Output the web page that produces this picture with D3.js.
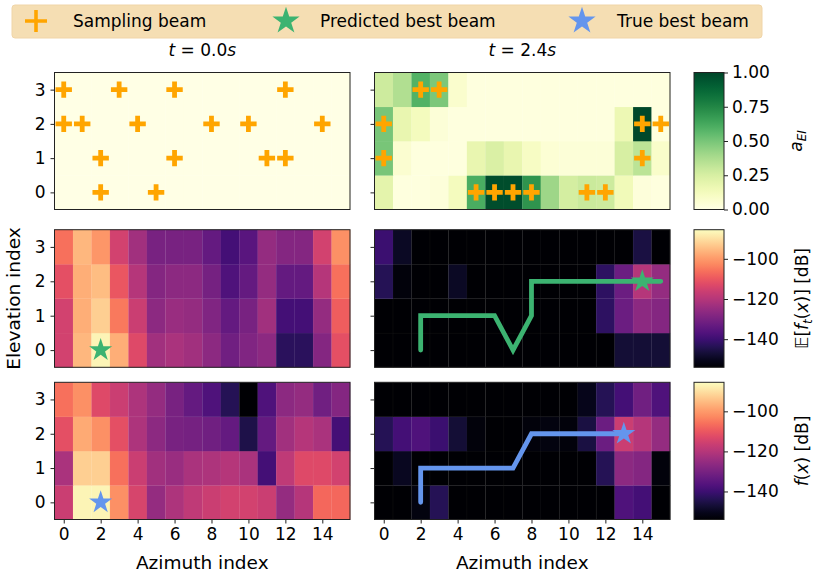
<!DOCTYPE html>
<html>
<head>
<meta charset="utf-8">
<script src="https://cdn.jsdelivr.net/npm/d3@7"></script>
<style>
  body { margin: 0; background: #fff; }
  text { font-family: "DejaVu Sans", sans-serif; fill: #000; }
</style>
</head>
<body>
<div id="chart"></div>
<script>
// categories
var azimuth = [0, 1, 2, 3, 4, 5, 6, 7, 8, 9, 10, 11, 12, 13, 14, 15];
var elevation = [0, 1, 2, 3];
var azTicks = [0, 2, 4, 6, 8, 10, 12, 14];
var titles = ["0.0", "2.4"];

// acquisition a_EI, rows = elevation 0..3
var acq0 = [
  [0, 0, 0, 0, 0, 0, 0, 0, 0, 0, 0, 0, 0, 0, 0, 0],
  [0, 0, 0, 0, 0, 0, 0, 0, 0, 0, 0, 0, 0, 0, 0, 0],
  [0, 0, 0, 0, 0, 0, 0, 0, 0, 0, 0, 0, 0, 0, 0, 0],
  [0, 0, 0, 0, 0, 0, 0, 0, 0, 0, 0, 0, 0, 0, 0, 0]
];
var acq24 = [
  [0.2, 0.02, 0.02, 0.03, 0.12, 0.61, 0.97, 0.97, 0.7, 0.41, 0.26, 0.29, 0.28, 0.14, 0.03, 0.02],
  [0.5, 0.06, 0.02, 0.02, 0.02, 0.18, 0.24, 0.18, 0.1, 0.05, 0.04, 0.04, 0.04, 0.25, 0.33, 0.08],
  [0.5, 0.18, 0.12, 0.04, 0.02, 0.02, 0.02, 0.02, 0.02, 0.02, 0.02, 0.02, 0.02, 0.16, 0.99, 0.02],
  [0.28, 0.36, 0.59, 0.49, 0.07, 0.02, 0.02, 0.02, 0.02, 0.02, 0.02, 0.02, 0.02, 0.02, 0.02, 0.02]
];

// predicted mean E[f_t(x)] in dB
var pred0 = [
  [-115, -95.8, -86.9, -97.1, -112.9, -123.2, -121.8, -123.2, -126.6, -131.4, -128.7, -126.6, -143, -143, -128, -111.5],
  [-115, -97.1, -92.4, -104.7, -116.3, -126.6, -124.5, -125.2, -128.7, -133.5, -130, -123.2, -138.9, -138.9, -125.2, -108.8],
  [-111.5, -97.1, -95.1, -110.2, -119.8, -128, -126.6, -126.6, -130.7, -136.9, -133.5, -125.2, -133.5, -133.5, -119.8, -106.1],
  [-106.1, -95.8, -100.6, -115, -123.2, -130, -130, -130, -133.5, -138.9, -135.5, -125.2, -128, -128, -115, -101.3]
];
var pred24 = [
  [-160, -160, -160, -160, -160, -160, -160, -160, -160, -160, -160, -160, -160, -147.2, -147.2, -147.2],
  [-160, -160, -160, -160, -160, -160, -160, -160, -160, -160, -160, -160, -142.4, -132.1, -126.6, -128],
  [-143.7, -152.6, -160, -160, -149.2, -160, -160, -160, -160, -160, -160, -160, -142.4, -132.1, -119.8, -125.2],
  [-140.3, -149.2, -160, -160, -160, -160, -160, -160, -160, -160, -160, -160, -160, -160, -145.8, -160]
];

// true f(x) in dB
var true0 = [
  [-116.3, -86.9, -86.9, -101.3, -114.3, -125.2, -121.1, -118.4, -116.3, -115, -115, -116.3, -125.2, -119.8, -107.4, -107.4],
  [-121.8, -92.4, -92.4, -106.1, -116.3, -123.2, -124.5, -121.8, -121.1, -119.8, -121.8, -138.9, -118.4, -112.9, -112.9, -115],
  [-111.5, -97.8, -101.3, -111.5, -121.1, -126.6, -130, -130.7, -131.4, -133.5, -145.1, -133.5, -123.2, -119.8, -121.8, -138.9],
  [-106.1, -101.3, -112.9, -116.3, -121.1, -125.2, -130, -133.5, -136.9, -143.7, -156, -136.9, -126.6, -125.2, -131.4, -128]
];
var true24 = [
  [-160, -160, -151.9, -143.7, -160, -160, -160, -160, -160, -160, -160, -160, -160, -136.9, -138.9, -160],
  [-160, -149.9, -160, -160, -160, -160, -160, -160, -160, -160, -160, -160, -143.7, -126.6, -128, -152.6],
  [-143.7, -138.9, -136.9, -140.3, -147.2, -152.6, -160, -160, -152.6, -151.9, -152.6, -145.8, -132.1, -116.3, -119.8, -125.2],
  [-160, -160, -160, -160, -160, -160, -160, -160, -160, -160, -160, -150.6, -143.7, -138.9, -131.4, -136.9]
];

// sampled beams [azimuth, elevation]
var samples0 = [[0, 3], [3, 3], [6, 3], [12, 3], [0, 2], [1, 2], [4, 2], [8, 2], [10, 2], [14, 2],
                [2, 1], [6, 1], [11, 1], [12, 1], [2, 0], [5, 0]];
var samples24 = [[2, 3], [3, 3], [0, 2], [14, 2], [15, 2], [0, 1], [14, 1],
                 [5, 0], [6, 0], [7, 0], [8, 0], [11, 0], [12, 0]];

// best beam tracks
var predPath = [[2, 0], [2, 1], [6, 1], [7, 0], [8, 1], [8, 2], [15, 2]];
var truePath = [[2, 0], [2, 1], [7, 1], [8, 2], [13, 2]];
var predBest0 = [2, 0], predBest24 = [14, 2];
var trueBest0 = [2, 0], trueBest24 = [13, 2];

var aTicks = [0, 0.25, 0.5, 0.75, 1];
var dbTicks = [-140, -120, -100];
var dbDomain = [-154, -85.5];

var W = 830, H = 579;
var ORANGE = "#ffa500", GREEN = "#3cb371", BLUE = "#6495ed";
var TICK_FS = "17px", LABEL_FS = "18.5px";

var svg = d3.select("#chart").append("svg")
  .attr("width", W).attr("height", H);

var cols = [[54.5, 350], [374.5, 670]];
var rows = [[72.5, 209.5], [229.7, 367.3], [382.3, 519.5]];
var cbX = [694, 724];

var acqColor = d3.scaleSequential(d3.interpolateYlGn).domain([0, 1]).clamp(true);
var dbColor = d3.scaleSequential(d3.interpolateMagma).domain(dbDomain).clamp(true);

function plusPath(s) {
  return "M" + (-s) + ",0H" + s + "M0," + (-s) + "V" + s;
}

function styleAxis(sel) {
  sel.select(".domain").remove();
  sel.selectAll("text").style("font-size", TICK_FS).style("font-family", "DejaVu Sans");
  sel.selectAll("line").attr("stroke", "#222").attr("stroke-width", 1);
}

function drawPanel(ci, ri, grid, color, opts) {
  var x = d3.scaleBand().domain(azimuth).range(cols[ci]).padding(0);
  var y = d3.scaleBand().domain(elevation.slice().reverse()).range(rows[ri]).padding(0);
  var g = svg.append("g");

  grid.forEach(function (row, e) {
    g.selectAll(null).data(row).enter().append("rect")
      .attr("x", function (d, a) { return x(azimuth[a]); })
      .attr("y", y(elevation[e]))
      .attr("width", x.bandwidth() + 0.3)
      .attr("height", y.bandwidth() + 0.3)
      .attr("fill", function (d) { return color(d); })
      .attr("stroke", "rgba(255,255,255,0.06)")
      .attr("stroke-width", 0.6);
  });

  var cx = function (a) { return x(a) + x.bandwidth() / 2; };
  var cy = function (e) { return y(e) + y.bandwidth() / 2; };

  // y axis
  var yAxis = d3.axisLeft(d3.scaleLinear().domain([-0.5, 3.5]).range([rows[ri][1], rows[ri][0]]))
    .tickValues(elevation).tickSize(4).tickPadding(5)
    .tickFormat(ci === 0 ? d3.format("d") : "");
  svg.append("g").attr("transform", "translate(" + cols[ci][0] + ",0)").call(yAxis).call(styleAxis);

  if (ri === 2) {
    var xAxis = d3.axisBottom(d3.scaleLinear().domain([-0.5, 15.5]).range(cols[ci]))
      .tickValues(azTicks).tickSize(4).tickPadding(4).tickFormat(d3.format("d"));
    svg.append("g").attr("transform", "translate(0," + rows[ri][1] + ")").call(xAxis).call(styleAxis);
    svg.append("text")
      .attr("x", (cols[ci][0] + cols[ci][1]) / 2).attr("y", 569)
      .attr("text-anchor", "middle").style("font-size", LABEL_FS)
      .text("Azimuth index");
  }

  if (opts.path) {
    g.append("path")
      .attr("d", d3.line().x(function (p) { return cx(p[0]); }).y(function (p) { return cy(p[1]); })(opts.path))
      .attr("fill", "none").attr("stroke", opts.pathColor)
      .attr("stroke-width", 4.8).attr("stroke-linecap", "round").attr("stroke-linejoin", "miter");
  }

  if (opts.samples) {
    g.selectAll(null).data(opts.samples).enter().append("path")
      .attr("transform", function (p) { return "translate(" + cx(p[0]) + "," + cy(p[1]) + ")"; })
      .attr("d", plusPath(8.2))
      .attr("stroke", ORANGE).attr("stroke-width", 4.8).attr("fill", "none");
  }

  if (opts.star) {
    g.append("path")
      .attr("transform", "translate(" + cx(opts.star[0]) + "," + cy(opts.star[1]) + ")")
      .attr("d", d3.symbol().type(d3.symbolStar).size(165)())
      .attr("fill", opts.starColor);
  }

  // frame
  svg.append("rect")
    .attr("x", cols[ci][0]).attr("y", rows[ri][0])
    .attr("width", cols[ci][1] - cols[ci][0]).attr("height", rows[ri][1] - rows[ri][0])
    .attr("fill", "none").attr("stroke", "#222").attr("stroke-width", 1);
}

function drawColorbar(ri, color, domain, ticks, fmt) {
  var id = "cb" + ri;
  var grad = svg.append("defs").append("linearGradient")
    .attr("id", id).attr("x1", 0).attr("x2", 0).attr("y1", 1).attr("y2", 0);
  d3.range(0, 1.0001, 0.05).forEach(function (t) {
    grad.append("stop").attr("offset", t)
      .attr("stop-color", color(domain[0] + t * (domain[1] - domain[0])));
  });
  svg.append("rect")
    .attr("x", cbX[0]).attr("y", rows[ri][0])
    .attr("width", cbX[1] - cbX[0]).attr("height", rows[ri][1] - rows[ri][0])
    .attr("fill", "url(#" + id + ")").attr("stroke", "#222").attr("stroke-width", 1);
  var s = d3.scaleLinear().domain(domain).range([rows[ri][1], rows[ri][0]]);
  svg.append("g").attr("transform", "translate(" + cbX[1] + ",0)")
    .call(d3.axisRight(s).tickValues(ticks).tickSize(4).tickPadding(4).tickFormat(fmt))
    .call(styleAxis);
}

// panels
drawPanel(0, 0, acq0, acqColor, { samples: samples0 });
drawPanel(1, 0, acq24, acqColor, { samples: samples24 });
drawPanel(0, 1, pred0, dbColor, { star: predBest0, starColor: GREEN });
drawPanel(1, 1, pred24, dbColor, { path: predPath, pathColor: GREEN, star: predBest24, starColor: GREEN });
drawPanel(0, 2, true0, dbColor, { star: trueBest0, starColor: BLUE });
drawPanel(1, 2, true24, dbColor, { path: truePath, pathColor: BLUE, star: trueBest24, starColor: BLUE });

var minusFmt = function (d) { return "\u2212" + Math.abs(d); };
drawColorbar(0, acqColor, [0, 1], aTicks, d3.format(".2f"));
drawColorbar(1, dbColor, dbDomain, dbTicks, minusFmt);
drawColorbar(2, dbColor, dbDomain, dbTicks, minusFmt);

// titles
titles.forEach(function (t, i) {
  var tx = svg.append("text")
    .attr("x", (cols[i][0] + cols[i][1]) / 2).attr("y", 56)
    .attr("text-anchor", "middle").style("font-size", TICK_FS);
  tx.append("tspan").style("font-style", "italic").text("t");
  tx.append("tspan").text(" = " + t);
  tx.append("tspan").style("font-style", "italic").text("s");
});

// y label
svg.append("text")
  .attr("transform", "translate(20," + (rows[1][0] + rows[1][1]) / 2 + ") rotate(-90)")
  .attr("text-anchor", "middle").style("font-size", LABEL_FS)
  .text("Elevation index");

// colorbar labels
var l1 = svg.append("text")
  .attr("transform", "translate(802," + (rows[0][0] + rows[0][1]) / 2 + ") rotate(-90)")
  .attr("text-anchor", "middle").style("font-size", TICK_FS);
l1.append("tspan").style("font-style", "italic").text("a");
l1.append("tspan").style("font-style", "italic").style("font-size", "12px").attr("dy", 4).text("EI");

var l2 = svg.append("text")
  .attr("transform", "translate(808," + (rows[1][0] + rows[1][1]) / 2 + ") rotate(-90)")
  .attr("text-anchor", "middle").style("font-size", TICK_FS);
l2.append("tspan").text("\uD835\uDD3C[");
l2.append("tspan").style("font-style", "italic").text("f");
l2.append("tspan").style("font-style", "italic").style("font-size", "12px").attr("dy", 4).text("t");
l2.append("tspan").attr("dy", -4).text("(");
l2.append("tspan").style("font-style", "italic").text("x");
l2.append("tspan").text(")] [dB]");

var l3 = svg.append("text")
  .attr("transform", "translate(808," + (rows[2][0] + rows[2][1]) / 2 + ") rotate(-90)")
  .attr("text-anchor", "middle").style("font-size", TICK_FS);
l3.append("tspan").style("font-style", "italic").text("f");
l3.append("tspan").text("(");
l3.append("tspan").style("font-style", "italic").text("x");
l3.append("tspan").text(") [dB]");

// legend
var legend = svg.append("g");
legend.append("rect")
  .attr("x", 12).attr("y", 5).attr("width", 750).attr("height", 33).attr("rx", 3)
  .attr("fill", "#f5deb3").attr("stroke", "#f0d5a8");
var items = [
  { label: "Sampling beam", x: 36, tx: 73, kind: "plus", color: ORANGE },
  { label: "Predicted best beam", x: 286, tx: 320, kind: "star", color: GREEN },
  { label: "True best beam", x: 582, tx: 617, kind: "star", color: BLUE }
];
items.forEach(function (it) {
  var mk = legend.append("path").attr("transform", "translate(" + it.x + ",21)");
  if (it.kind === "plus") {
    mk.attr("d", plusPath(11)).attr("stroke", it.color).attr("stroke-width", 3.6).attr("fill", "none");
  } else {
    mk.attr("d", d3.symbol().type(d3.symbolStar).size(230)()).attr("fill", it.color);
  }
  legend.append("text").attr("x", it.tx).attr("y", 27)
    .style("font-size", TICK_FS).text(it.label);
});
</script>
</body>
</html>
